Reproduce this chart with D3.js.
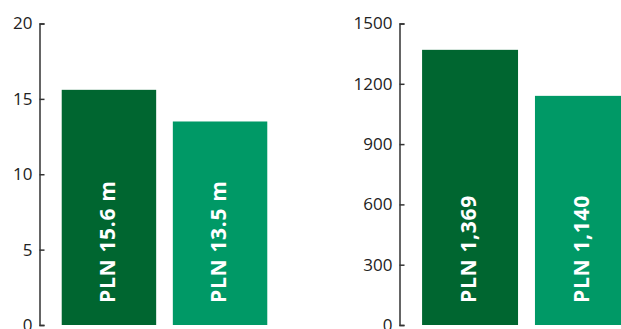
<!DOCTYPE html>
<html>
<head>
<meta charset="utf-8">
<script src="https://cdn.jsdelivr.net/npm/d3@7"></script>
<style>
  body { margin: 0; background: #fff; }
  svg { display: block; font-family: 'Open Sans', sans-serif; }
</style>
</head>
<body>
<div class="vis-container"></div>
<script>
// data
const categories = ['A', 'B'];
const leftValues = [15.6, 13.5];
const leftLabels = ['PLN 15.6 m', 'PLN 13.5 m'];
const leftTicks = [0, 5, 10, 15, 20];
const rightValues = [1369, 1140];
const rightLabels = ['PLN 1,369', 'PLN 1,140'];
const rightTicks = [0, 300, 600, 900, 1200, 1500];
const colors = ['#006630', '#009966'];

const width = 621;
const height = 329;
const yTop = 23.5;
const yBottom = 325;

const svg = d3
  .select('.vis-container')
  .append('svg')
  .attr('width', width)
  .attr('height', height);

function drawChart(axisX, rangeWidth, values, labels, ticks, maxVal) {
  const g = svg.append('g');

  const xScale = d3
    .scaleBand()
    .domain(categories)
    .range([axisX, axisX + rangeWidth])
    .paddingInner(0.15)
    .paddingOuter(0.2);

  const yScale = d3.scaleLinear().domain([0, maxVal]).range([yBottom, yTop]);

  const rows = categories.map((c, i) => ({ cat: c, value: values[i], label: labels[i], color: colors[i] }));

  g.selectAll('rect')
    .data(rows)
    .join('rect')
    .attr('x', (d) => xScale(d.cat))
    .attr('y', (d) => yScale(d.value))
    .attr('width', xScale.bandwidth())
    .attr('height', (d) => yScale(0) - yScale(d.value))
    .attr('fill', (d) => d.color);

  g.selectAll('text.bar-label')
    .data(rows)
    .join('text')
    .attr('class', 'bar-label')
    .attr('transform', (d) => `translate(${xScale(d.cat) + xScale.bandwidth() / 2 + 6},${yBottom - 22}) rotate(-90)`)
    .attr('fill', '#fff')
    .attr('font-size', 21)
    .attr('font-weight', 'bold')
    .attr('letter-spacing', 0.7)
    .attr('text-anchor', 'start')
    .text((d) => d.label);

  const yAxis = d3
    .axisLeft(yScale)
    .tickValues(ticks)
    .tickFormat(d3.format('d'))
    .tickSize(-5)
    .tickPadding(7)
    .tickSizeOuter(-5);
  g.append('g')
    .attr('transform', `translate(${axisX},0)`)
    .call(yAxis)
    .call((a) => a.select('.domain').attr('stroke', '#333').attr('stroke-width', 1.5))
    .call((a) => a.selectAll('.tick line').attr('stroke', '#333').attr('stroke-width', 1.5))
    .call((a) =>
      a.selectAll('.tick text')
        .attr('fill', '#222')
        .attr('font-size', 17)
        .attr('font-family', "'Open Sans', sans-serif")
    );
}

drawChart(39.5, 250, leftValues, leftLabels, leftTicks, 20);
drawChart(399.5, 254, rightValues, rightLabels, rightTicks, 1500);
</script>
</body>
</html>
